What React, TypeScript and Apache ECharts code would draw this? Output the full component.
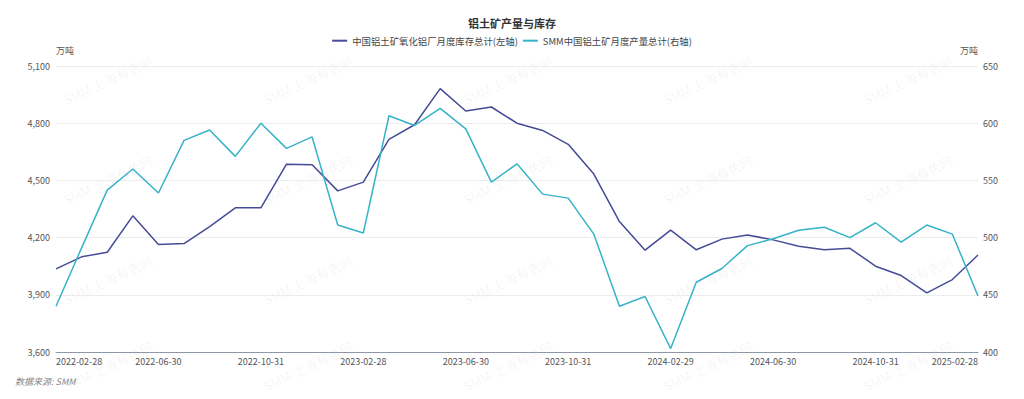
import React, { useEffect, useRef } from "react";
import * as echarts from "echarts";

const categories: string[] = [
  "2022-02-28", "2022-03-31", "2022-04-30", "2022-05-31", "2022-06-30", "2022-07-31",
  "2022-08-31", "2022-09-30", "2022-10-31", "2022-11-30", "2022-12-31", "2023-01-31",
  "2023-02-28", "2023-03-31", "2023-04-30", "2023-05-31", "2023-06-30", "2023-07-31",
  "2023-08-31", "2023-09-30", "2023-10-31", "2023-11-30", "2023-12-31", "2024-01-31",
  "2024-02-29", "2024-03-31", "2024-04-30", "2024-05-31", "2024-06-30", "2024-07-31",
  "2024-08-31", "2024-09-30", "2024-10-31", "2024-11-30", "2024-12-31", "2025-01-31",
  "2025-02-28",
];

const inventoryName = "中国铝土矿氧化铝厂月度库存总计(左轴)";
const productionName = "SMM中国铝土矿月度产量总计(右轴)";

// 万吨, left axis
const inventory: number[] = [
  4036, 4099, 4123, 4314, 4164, 4169, 4258, 4356, 4356, 4585,
  4582, 4445, 4491, 4715, 4792, 4981, 4864, 4885, 4800, 4762,
  4689, 4533, 4284, 4134, 4239, 4136, 4192, 4214, 4188, 4155,
  4136, 4144, 4050, 4001, 3910, 3980, 4109,
];

// 万吨, right axis
const production: number[] = [
  440, 491, 541.5, 560, 539, 585, 594, 571, 600, 578,
  588, 511, 504, 606.5, 598, 613, 595, 548.5, 564.5, 538,
  534.5, 503, 440, 448.5, 403, 461, 473, 493, 499, 506.5,
  509, 500, 513, 496, 511, 503, 449,
];

const leftTicks = { min: 3600, max: 5100, interval: 300 };
const rightTicks = { min: 400, max: 650, interval: 50 };

const titleText = "铝土矿产量与库存";
const unitText = "万吨";
const sourceText = "数据来源: SMM";
const watermarkText = "SMM 上海有色网";

const FONT = "'Noto Sans CJK SC', 'Noto Sans', sans-serif";

export default function App() {
  const ref = useRef<HTMLDivElement>(null);

  useEffect(() => {
    if (!ref.current) return;
    const chart = echarts.init(ref.current, undefined, { renderer: "svg" });

    const watermarks: any[] = [];
    const cols = [108, 308, 508, 708, 908];
    const rows = [80, 180, 280, 366];
    rows.forEach((y) =>
      cols.forEach((x) =>
        watermarks.push({
          type: "text",
          x,
          y,
          rotation: 0.44,
          silent: true,
          z: 0,
          style: {
            text: watermarkText,
            fill: "rgba(0,0,0,0.06)",
            font: `13px ${FONT}`,
            align: "center",
            verticalAlign: "middle",
          },
        })
      )
    );

    chart.setOption({
      animation: false,
      backgroundColor: "#ffffff",
      textStyle: { fontFamily: FONT },
      title: {
        text: titleText,
        left: "center",
        top: 12,
        textStyle: { fontSize: 11, fontWeight: "bold", color: "#333", fontFamily: FONT },
      },
      legend: {
        top: 31,
        left: "center",
        itemWidth: 15,
        itemHeight: 2,
        itemGap: 5,
        icon: "rect",
        textStyle: { fontSize: 9.4, color: "#444", fontFamily: FONT },
        data: [inventoryName, productionName],
      },
      grid: { left: 56, right: 46, top: 66, bottom: 47, containLabel: false },
      xAxis: {
        type: "category",
        data: categories,
        boundaryGap: false,
        axisLine: { show: true, lineStyle: { color: "#8e98a8", width: 1 } },
        axisTick: { show: false },
        axisLabel: {
          interval: 3,
          fontSize: 9,
          color: "#555",
          margin: 5,
          alignMinLabel: "left",
          alignMaxLabel: "right",
          fontFamily: FONT,
        },
        splitLine: { show: false },
      },
      yAxis: [
        {
          type: "value",
          position: "left",
          min: leftTicks.min,
          max: leftTicks.max,
          interval: leftTicks.interval,
          name: unitText,
          nameGap: 11,
          nameTextStyle: { fontSize: 9, color: "#555", align: "left", fontFamily: FONT },
          axisLine: { show: false },
          axisTick: { show: false },
          axisLabel: {
            fontSize: 9,
            color: "#555",
            margin: 6,
            fontFamily: FONT,
            formatter: (v: number) => v.toLocaleString("en-US"),
          },
          splitLine: { show: true, lineStyle: { color: "#ececec", width: 1 } },
        },
        {
          type: "value",
          position: "right",
          min: rightTicks.min,
          max: rightTicks.max,
          interval: rightTicks.interval,
          name: unitText,
          nameGap: 11,
          nameTextStyle: { fontSize: 9, color: "#555", align: "right", fontFamily: FONT },
          axisLine: { show: false },
          axisTick: { show: false },
          axisLabel: { fontSize: 9, color: "#555", margin: 5, fontFamily: FONT },
          splitLine: { show: false },
        },
      ],
      series: [
        {
          name: inventoryName,
          type: "line",
          yAxisIndex: 0,
          data: inventory,
          symbol: "none",
          z: 3,
          lineStyle: { color: "#454b97", width: 1.5 },
          itemStyle: { color: "#454b97" },
        },
        {
          name: productionName,
          type: "line",
          yAxisIndex: 1,
          data: production,
          symbol: "none",
          z: 3,
          lineStyle: { color: "#36b3c8", width: 1.5 },
          itemStyle: { color: "#36b3c8" },
        },
      ],
      graphic: [
        ...watermarks,
        {
          type: "text",
          left: 15,
          top: 377,
          silent: true,
          style: {
            text: sourceText,
            fill: "#8a8a8a",
            font: `italic 9px ${FONT}`,
          },
        },
      ],
    });

    return () => chart.dispose();
  }, []);

  return (
    <div
      ref={ref}
      style={{ position: "fixed", left: 0, top: 0, width: 1024, height: 399 }}
    />
  );
}
